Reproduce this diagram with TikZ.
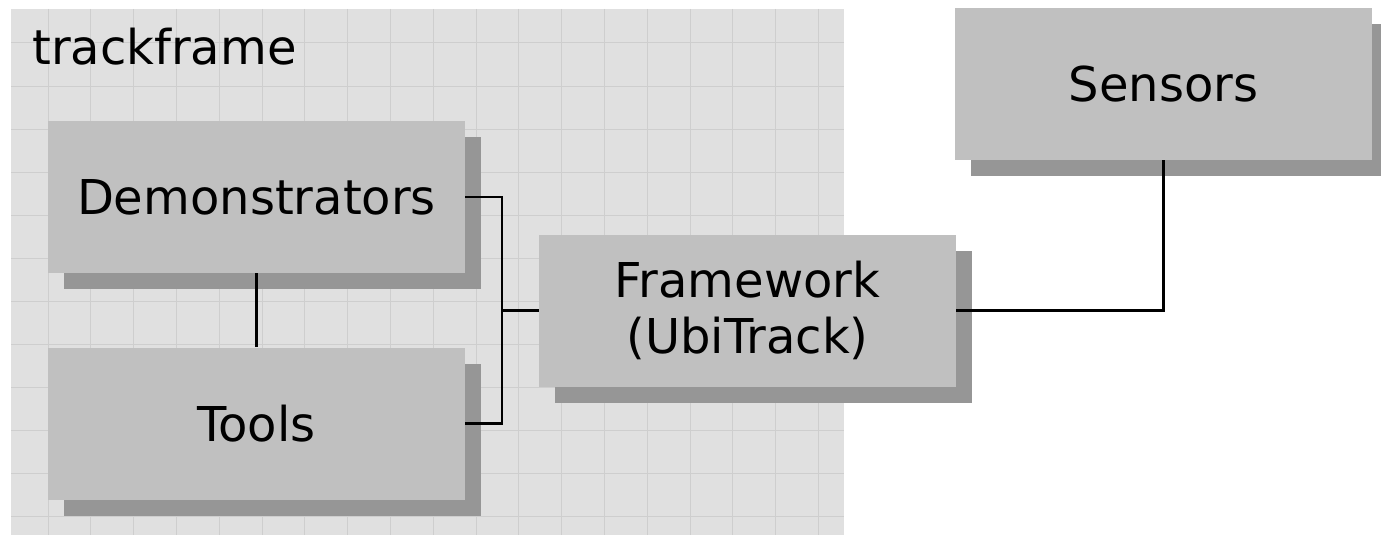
\documentclass[tikz,border=0pt]{standalone}
\usepackage{fontspec}
\setmainfont{DejaVu Sans}
\usetikzlibrary{shadows}
\definecolor{boxgray}{RGB}{192,192,192}
\definecolor{shadowgray}{RGB}{150,150,150}
\definecolor{framegray}{RGB}{224,224,224}
\definecolor{gridgray}{RGB}{206,206,206}

\begin{document}
\begin{tikzpicture}[x=1pt,y=-1pt,
	box/.style={fill=boxgray,minimum width=417pt,minimum height=152pt,inner sep=0pt,align=center,
		font=\fontsize{48}{56}\selectfont,
		drop shadow={shadow xshift=16pt,shadow yshift=-16pt,fill=shadowgray,opacity=1}},
	link/.style={line width=2.8pt}]
\useasboundingbox (0,0) rectangle (1381,535);
% trackframe area with its grid
\fill[framegray] (11,9) rectangle (844,535);
\foreach \x in {0,...,18}
	\draw[gridgray,line width=1pt] (48+42.8*\x,9) -- (48+42.8*\x,535);
\foreach \y in {1,...,12}
	\draw[gridgray,line width=1pt] (11,43*\y) -- (844,43*\y);
\node[anchor=base west,inner sep=0pt,font=\fontsize{48}{56}\selectfont] (trackframe) at (32,65) {trackframe};

% boxes
\node[box] (demo) at (256.5,197) {Demonstrators};
\node[box] (tools) at (256.5,423.5) {Tools};
\node[box] (framework) at (747.5,310.5) {Framework\\(UbiTrack)};
\node[box] (sensors) at (1163.5,84) {Sensors};

% connections
\coordinate (junction) at (502,310.5);
\draw[link] (demo.east) -| (junction) |- (tools.east);
\draw[link] (junction) -- (framework.west);
\draw[link] (demo.south) -- (tools.north);
\draw[link] (framework.east) -| (sensors.south);
\end{tikzpicture}
\end{document}
